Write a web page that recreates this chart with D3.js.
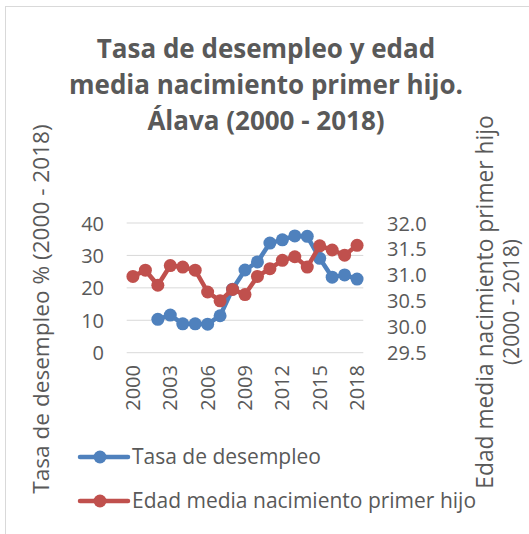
<!DOCTYPE html>
<html>
<head>
<meta charset="utf-8">
<script src="https://cdn.jsdelivr.net/npm/d3@7"></script>
<style>
  body { margin: 0; background: #fff; }
  svg text { font-family: "Open Sans", "Liberation Sans", sans-serif; fill: #595959; }
</style>
</head>
<body>
<svg id="chart" width="529" height="534"></svg>
<script>
// data
var years = d3.range(2000, 2019);
var tickYears = [2000, 2003, 2006, 2009, 2012, 2015, 2018];
var desempleo = [null, null, 10.3, 11.6, 8.9, 8.9, 8.8, 11.4, 19.6, 25.5, 28.0, 33.8, 34.8, 36.0, 35.9, 29.1, 23.3, 24.0, 22.7];
var edadMedia = [30.97, 31.09, 30.80, 31.18, 31.15, 31.09, 30.67, 30.50, 30.72, 30.62, 30.97, 31.12, 31.28, 31.35, 31.15, 31.56, 31.48, 31.38, 31.57];
var leftTicks = [0, 10, 20, 30, 40];
var rightTicks = [29.5, 30.0, 30.5, 31.0, 31.5, 32.0];

var blue = '#4f81bd', red = '#c0504d';

var svg = d3.select('#chart');

// outer border
svg.append('rect')
    .attr('x', 5.5).attr('y', 6.5)
    .attr('width', 540).attr('height', 540)
    .style('fill', 'none')
    .style('stroke', '#d9d9d9');

// title
var titleLines = ['Tasa de desempleo y edad', 'media nacimiento primer hijo.', 'Álava (2000 - 2018)'];
svg.selectAll('.title')
    .data(titleLines)
    .enter().append('text')
    .attr('class', 'title')
    .attr('x', 266)
    .attr('y', function(d, i) { return 58 + i * 36; })
    .style('text-anchor', 'middle')
    .style('font-size', '26px')
    .style('font-weight', 'bold')
    .text(function(d) { return d; });

var plotL = 126.7, plotR = 363.3, plotT = 223, plotB = 352.7;

var x = d3.scaleBand()
    .domain(years)
    .range([plotL, plotR]);

var yL = d3.scaleLinear().domain([0, 40]).range([plotB, plotT]);
var yR = d3.scaleLinear().domain([29.5, 32.0]).range([plotB, plotT]);

// gridlines
svg.append('g')
    .selectAll('line')
    .data(leftTicks)
    .enter().append('line')
    .attr('x1', plotL).attr('x2', plotR)
    .attr('y1', function(d) { return yL(d); })
    .attr('y2', function(d) { return yL(d); })
    .style('stroke', '#d9d9d9')
    .style('stroke-width', 1);

// left axis
var leftAxis = d3.axisLeft(yL).tickValues(leftTicks).tickSize(0).tickPadding(0);
var gL = svg.append('g')
    .attr('transform', 'translate(' + 104 + ',0)')
    .call(leftAxis);
gL.select('.domain').remove();
gL.selectAll('text').style('font-size', '20px').attr('dy', '0.35em');

// right axis
var rightAxis = d3.axisRight(yR).tickValues(rightTicks).tickSize(0).tickPadding(0)
    .tickFormat(d3.format('.1f'));
var gR = svg.append('g')
    .attr('transform', 'translate(' + 387 + ',0)')
    .call(rightAxis);
gR.select('.domain').remove();
gR.selectAll('text').style('font-size', '20px').attr('dy', '0.35em');

// x axis labels (rotated)
svg.append('g')
    .selectAll('text')
    .data(tickYears)
    .enter().append('text')
    .attr('transform', function(d) {
        return 'translate(' + (x(d) + x.bandwidth() / 2) + ',' + 365 + ') rotate(-90)';
    })
    .attr('dy', '0.35em')
    .style('text-anchor', 'end')
    .style('font-size', '20px')
    .text(function(d) { return d; });

// axis titles
svg.append('text')
    .attr('transform', 'translate(' + 41 + ',' + 309 + ') rotate(-90)')
    .attr('dy', '0.35em')
    .style('text-anchor', 'middle')
    .style('font-size', '22.6px')
    .text('Tasa de desempleo % (2000 - 2018)');

var rightTitle = ['Edad media nacimiento primer hijo', '(2000 - 2018)'];
svg.selectAll('.rtitle')
    .data(rightTitle)
    .enter().append('text')
    .attr('class', 'rtitle')
    .attr('transform', function(d, i) {
        return 'translate(' + (485 + i * 27) + ',' + 302 + ') rotate(-90)';
    })
    .attr('dy', '0.35em')
    .style('text-anchor', 'middle')
    .style('font-size', function(d, i) { return i === 0 ? '22.8px' : '21px'; })
    .text(function(d) { return d; });

// series
function cx(i) { return x(years[i]) + x.bandwidth() / 2; }

var series = [
    { name: 'Tasa de desempleo', values: desempleo, scale: yL, color: blue },
    { name: 'Edad media nacimiento primer hijo', values: edadMedia, scale: yR, color: red }
];

series.forEach(function(s) {
    var line = d3.line()
        .defined(function(d) { return d != null; })
        .x(function(d, i) { return cx(i); })
        .y(function(d) { return s.scale(d); });

    svg.append('path')
        .datum(s.values)
        .attr('d', line)
        .style('fill', 'none')
        .style('stroke', s.color)
        .style('stroke-width', 4.5)
        .style('stroke-linejoin', 'round');

    svg.append('g')
        .selectAll('circle')
        .data(s.values.map(function(v, i) { return { v: v, i: i }; })
            .filter(function(d) { return d.v != null; }))
        .enter().append('circle')
        .attr('cx', function(d) { return cx(d.i); })
        .attr('cy', function(d) { return s.scale(d.v); })
        .attr('r', 6.5)
        .style('fill', s.color);
});

// legend
var legend = svg.selectAll('.legend')
    .data(series)
    .enter().append('g')
    .attr('class', 'legend')
    .attr('transform', function(d, i) { return 'translate(0,' + (457 + i * 44) + ')'; });

legend.append('line')
    .attr('x1', 80).attr('x2', 128)
    .style('stroke', function(d) { return d.color; })
    .style('stroke-width', 4.5)
    .style('stroke-linecap', 'round');

legend.append('circle')
    .attr('cx', 100)
    .attr('r', 6.5)
    .style('fill', function(d) { return d.color; });

legend.append('text')
    .attr('x', 132)
    .attr('dy', '0.35em')
    .style('font-size', '21px')
    .text(function(d) { return d.name; });
</script>
</body>
</html>
